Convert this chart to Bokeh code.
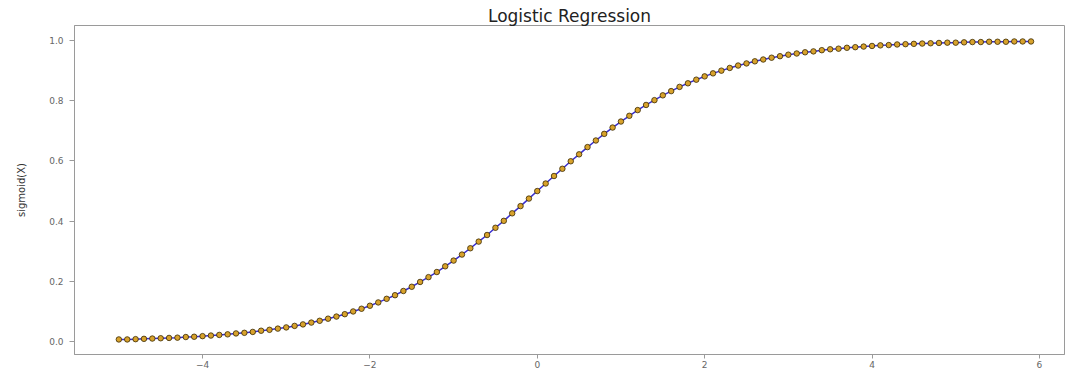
from bokeh.plotting import figure
from bokeh.models import Range1d, FixedTicker, Label, CustomJSTickFormatter
from bokeh.embed import file_html
from bokeh.resources import INLINE

# ---- data ----
x_vals = [-5.0, -4.9, -4.8, -4.7, -4.6, -4.5, -4.4, -4.3, -4.2, -4.1,
          -4.0, -3.9, -3.8, -3.7, -3.6, -3.5, -3.4, -3.3, -3.2, -3.1,
          -3.0, -2.9, -2.8, -2.7, -2.6, -2.5, -2.4, -2.3, -2.2, -2.1,
          -2.0, -1.9, -1.8, -1.7, -1.6, -1.5, -1.4, -1.3, -1.2, -1.1,
          -1.0, -0.9, -0.8, -0.7, -0.6, -0.5, -0.4, -0.3, -0.2, -0.1,
          0.0, 0.1, 0.2, 0.3, 0.4, 0.5, 0.6, 0.7, 0.8, 0.9,
          1.0, 1.1, 1.2, 1.3, 1.4, 1.5, 1.6, 1.7, 1.8, 1.9,
          2.0, 2.1, 2.2, 2.3, 2.4, 2.5, 2.6, 2.7, 2.8, 2.9,
          3.0, 3.1, 3.2, 3.3, 3.4, 3.5, 3.6, 3.7, 3.8, 3.9,
          4.0, 4.1, 4.2, 4.3, 4.4, 4.5, 4.6, 4.7, 4.8, 4.9,
          5.0, 5.1, 5.2, 5.3, 5.4, 5.5, 5.6, 5.7, 5.8, 5.9]
sigmoid_vals = [0.007, 0.007, 0.008, 0.009, 0.010, 0.011, 0.012, 0.013, 0.015, 0.016,
                0.018, 0.020, 0.022, 0.024, 0.027, 0.029, 0.032, 0.036, 0.039, 0.043,
                0.047, 0.052, 0.057, 0.063, 0.069, 0.076, 0.083, 0.091, 0.100, 0.109,
                0.119, 0.130, 0.142, 0.154, 0.168, 0.182, 0.198, 0.214, 0.231, 0.250,
                0.269, 0.289, 0.310, 0.332, 0.354, 0.378, 0.401, 0.426, 0.450, 0.475,
                0.500, 0.525, 0.550, 0.574, 0.599, 0.622, 0.646, 0.668, 0.690, 0.711,
                0.731, 0.750, 0.769, 0.786, 0.802, 0.818, 0.832, 0.846, 0.858, 0.870,
                0.881, 0.891, 0.900, 0.909, 0.917, 0.924, 0.931, 0.937, 0.943, 0.948,
                0.953, 0.957, 0.961, 0.964, 0.968, 0.971, 0.973, 0.976, 0.978, 0.980,
                0.982, 0.984, 0.985, 0.987, 0.988, 0.989, 0.990, 0.991, 0.992, 0.993,
                0.993, 0.994, 0.995, 0.995, 0.996, 0.996, 0.996, 0.997, 0.997, 0.997]
x_ticks = [-4, -2, 0, 2, 4, 6]
y_ticks = [0.0, 0.2, 0.4, 0.6, 0.8, 1.0]
title_text = "Logistic Regression"
x_label = "X"
y_label = "sigmoid(X)"

FONT = "DejaVu Sans"

p = figure(width=1065, height=375, output_backend="svg", toolbar_location=None,
           x_range=Range1d(-5.53, 6.30), y_range=Range1d(-0.043, 1.050),
           min_border_left=74, min_border_right=1, min_border_top=25,
           min_border_bottom=21, title=title_text)

p.title.text_font = FONT
p.title.text_font_size = "17px"
p.title.text_font_style = "normal"
p.title.text_color = "#222222"
p.title.align = "center"
p.title.standoff = 0

p.grid.visible = False
p.background_fill_color = "white"
p.border_fill_color = "white"
p.outline_line_color = "#9a9a9a"
p.outline_line_width = 1

for ax in (p.xaxis[0], p.yaxis[0]):
    ax.axis_line_color = "#9a9a9a"
    ax.major_tick_line_color = "#9a9a9a"
    ax.minor_tick_line_color = None
    ax.major_tick_in = 0
    ax.major_label_text_font = FONT
    ax.major_label_text_font_size = "9px"
    ax.major_label_text_color = "#666666"

p.xaxis.ticker = FixedTicker(ticks=x_ticks)
p.xaxis.formatter = CustomJSTickFormatter(code="return tick < 0 ? '\u2212' + Math.abs(tick) : String(tick);")
p.xaxis.major_tick_out = 4
p.xaxis.major_label_standoff = 2

p.yaxis.ticker = FixedTicker(ticks=y_ticks)
p.yaxis.formatter = CustomJSTickFormatter(code="return tick.toFixed(1);")
p.yaxis.major_tick_out = 5
p.yaxis.major_label_standoff = 6
p.yaxis.axis_label = y_label
p.yaxis.axis_label_text_font = FONT
p.yaxis.axis_label_text_font_size = "10px"
p.yaxis.axis_label_text_font_style = "normal"
p.yaxis.axis_label_text_color = "#333333"
p.yaxis.axis_label_standoff = 19

p.line(x_vals, sigmoid_vals, line_color="#3a2fd0", line_width=1.5)
p.scatter(x_vals, sigmoid_vals, marker="circle", size=5.5,
          fill_color="#d8a22c", line_color="#3a2800", line_width=0.8)

xl = Label(x=0.37, y=-0.071, text=x_label, text_font=FONT, text_font_size="11px",
           text_color="#333333", text_align="center", text_baseline="top")
p.add_layout(xl)

open("out.html", "w").write(file_html(p, INLINE))
